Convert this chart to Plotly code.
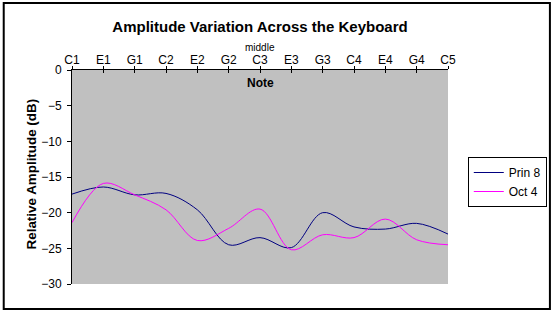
import plotly.graph_objects as go

notes = ["C1", "E1", "G1", "C2", "E2", "G2", "C3", "E3", "G3", "C4", "E4", "G4", "C5"]
prin8 = [-17.4, -16.4, -17.5, -17.3, -19.6, -24.5, -23.5, -24.9, -20.0, -22.0, -22.3, -21.5, -23.0]
oct4 = [-21.4, -15.9, -17.5, -19.6, -23.9, -22.2, -19.5, -25.2, -23.1, -23.5, -20.9, -23.8, -24.5]
yticks = [0, -5, -10, -15, -20, -25, -30]

FONT = "Liberation Sans, Arial, sans-serif"
W, H = 559, 314
L, R, T, B = 72, 452, 70, 284
pw, ph = R - L, B - T

def px(x):
    return (x - L) / pw

def py(y):
    return (B - y) / ph

xs = list(range(len(notes)))

fig = go.Figure()
fig.add_trace(go.Scatter(x=xs, y=prin8, name="Prin 8", mode="lines",
                         line=dict(color="#000080", width=1, shape="spline", smoothing=1)))
fig.add_trace(go.Scatter(x=xs, y=oct4, name="Oct 4", mode="lines",
                         line=dict(color="#FF00FF", width=1, shape="spline", smoothing=1)))
# invisible trace to carry the inner tick axis
fig.add_trace(go.Scatter(x=[xs[0]], y=[prin8[0]], xaxis="x2", mode="lines",
                         showlegend=False, hoverinfo="skip", line=dict(width=0)))

fig.update_layout(
    width=W, height=H,
    margin=dict(l=L, r=W - R, t=T, b=H - B),
    paper_bgcolor="white",
    plot_bgcolor="#C0C0C0",
    font=dict(family=FONT, size=12, color="black"),
    title=dict(text="<b>Amplitude Variation Across the Keyboard</b>",
               x=(113 + 407) / 2 / W, xanchor="center",
               y=1 - 27 / H, yanchor="middle",
               font=dict(family=FONT, size=15, color="black")),
    xaxis=dict(range=[0, 12], side="top", tickmode="array", tickvals=xs, ticktext=notes,
               ticks="outside", ticklen=3, tickcolor="black", showline=True, linecolor="black",
               linewidth=1, showgrid=False, zeroline=False, tickfont=dict(size=12),
               ticklabelstandoff=-3, fixedrange=True),
    xaxis2=dict(range=[0, 12], overlaying="x", side="top", tickmode="array", tickvals=xs,
                ticks="inside", ticklen=3, tickcolor="black", showticklabels=False,
                showline=False, showgrid=False, zeroline=False),
    yaxis=dict(range=[-30, 0], tickmode="array", tickvals=yticks,
               ticks="outside", ticklen=4, tickcolor="black", showline=True, linecolor="black",
               linewidth=1, showgrid=False, zeroline=False, tickfont=dict(size=12),
               ticklabelstandoff=3),
    legend=dict(x=px(472), y=py(157), xanchor="left", yanchor="top",
                bordercolor="black", borderwidth=1, bgcolor="white",
                font=dict(size=12), itemwidth=30, tracegroupgap=0),
    showlegend=True,
)

fig.add_annotation(text="<b>Note</b>", x=6, y=py(83), xref="x", yref="paper",
                   showarrow=False, font=dict(size=12), xanchor="center", yanchor="middle")
fig.add_annotation(text="middle", x=6, y=py(47), xref="x", yref="paper",
                   showarrow=False, font=dict(size=10), xanchor="center", yanchor="middle")
fig.add_annotation(text="<b>Relative Amplitude (dB)</b>", x=px(31), y=py(174),
                   xref="paper", yref="paper", showarrow=False, textangle=-90,
                   font=dict(size=13.4), xanchor="center", yanchor="middle")

fig.add_shape(type="rect", xref="paper", yref="paper",
              x0=px(3), x1=px(555), y0=py(309), y1=py(3),
              line=dict(color="black", width=2), fillcolor="rgba(0,0,0,0)", layer="above")

fig.write_html("out.html")
